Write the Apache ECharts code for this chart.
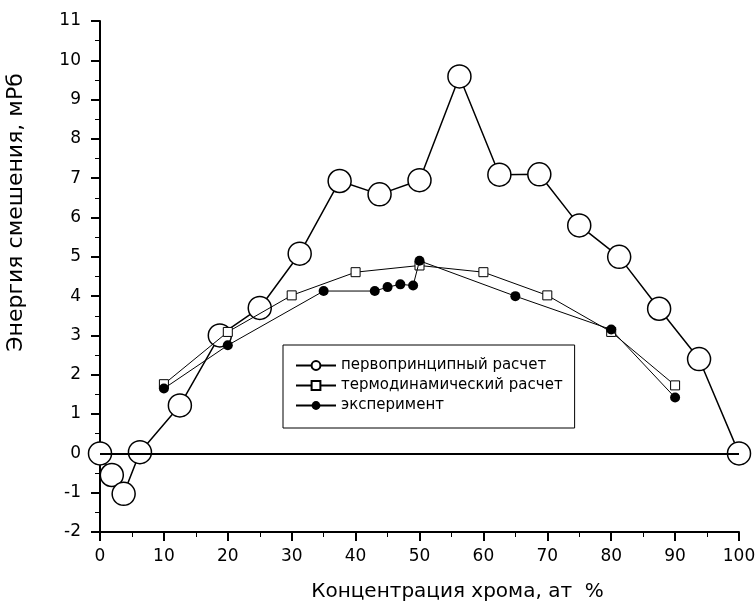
<!DOCTYPE html>
<html>
<head>
<meta charset="utf-8">
<script src="https://cdn.jsdelivr.net/npm/echarts@6/dist/echarts.min.js"></script>
<style>
  html, body { margin: 0; padding: 0; background: #fff; }
  #chart { width: 756px; height: 609px; }
</style>
</head>
<body>
<div id="chart"></div>
<script>
// первопринципный расчет
var calcX = [0, 1.85, 3.7, 6.25, 12.5, 18.75, 25, 31.25, 37.5, 43.75, 50, 56.25, 62.5, 68.75, 75, 81.25, 87.5, 93.75, 100];
var calcY = [0, -0.55, -1.03, 0.03, 1.22, 3.0, 3.7, 5.08, 6.93, 6.59, 6.95, 9.59, 7.09, 7.1, 5.8, 5.0, 3.68, 2.4, 0];
// термодинамический расчет
var thermoX = [10, 20, 30, 40, 50, 60, 70, 80, 90];
var thermoY = [1.76, 3.09, 4.02, 4.61, 4.78, 4.61, 4.02, 3.09, 1.73];
// эксперимент
var expX = [10, 20, 35, 43, 45, 47, 49, 50, 65, 80, 90];
var expY = [1.65, 2.75, 4.13, 4.13, 4.23, 4.30, 4.27, 4.9, 4.0, 3.15, 1.42];

var names = ['первопринципный расчет', 'термодинамический расчет', 'эксперимент'];

function pairs(xs, ys) {
  var out = [];
  xs.forEach(function (x, i) { out.push([x, ys[i]]); });
  return out;
}

var font = 'DejaVu Sans, sans-serif';
var myChart = echarts.init(document.getElementById('chart'));
var option = {
  animation: false,
  grid: { left: 100, right: 17, top: 21, bottom: 77, outerBoundsMode: 'none', containLabel: false },
  legend: {
    left: 283, top: 345,
    orient: 'vertical',
    data: names,
    itemWidth: 40, itemHeight: 11, itemGap: 5,
    padding: [13, 12, 15, 12],
    borderColor: '#000', borderWidth: 1,
    textStyle: { fontFamily: font, fontSize: 15, color: '#000' }
  },
  xAxis: {
    type: 'value', min: 0, max: 100, interval: 10,
    name: 'Концентрация хрома, ат  %',
    nameLocation: 'middle', nameGap: 50,
    nameTextStyle: { fontFamily: font, fontSize: 20, color: '#000', padding: [0, 0, 0, 76] },
    axisLine: { onZero: false, lineStyle: { color: '#000', width: 2 } },
    axisTick: { show: true, inside: false, length: 9, lineStyle: { color: '#000', width: 2 } },
    minorTick: { show: true, splitNumber: 2, length: 5, lineStyle: { color: '#000', width: 1 } },
    axisLabel: { fontFamily: font, fontSize: 17, color: '#000', margin: 16 },
    splitLine: { show: false }
  },
  yAxis: {
    type: 'value', min: -2, max: 11, interval: 1,
    name: 'Энергия смешения, мРб',
    nameLocation: 'middle', nameGap: 73,
    nameTextStyle: { fontFamily: font, fontSize: 22, color: '#000', padding: [0, 0, 0, 128] },
    axisLine: { onZero: false, lineStyle: { color: '#000', width: 2 } },
    axisTick: { show: true, inside: false, length: 9, lineStyle: { color: '#000', width: 2 } },
    minorTick: { show: true, splitNumber: 2, length: 5, lineStyle: { color: '#000', width: 1 } },
    axisLabel: { fontFamily: font, fontSize: 17, color: '#000', margin: 19 },
    splitLine: { show: false }
  },
  series: [
    {
      name: names[0], type: 'line', z: 2,
      data: pairs(calcX, calcY),
      symbol: 'circle', symbolSize: 23,
      itemStyle: { color: '#fff', borderColor: '#000', borderWidth: 1.5 },
      lineStyle: { color: '#000', width: 1.5 },
      markLine: {
        silent: true, symbol: 'none', label: { show: false },
        lineStyle: { color: '#000', width: 2, type: 'solid' },
        data: [{ yAxis: 0 }]
      }
    },
    {
      name: names[1], type: 'line', z: 3,
      data: pairs(thermoX, thermoY),
      symbol: 'rect', symbolSize: 9,
      itemStyle: { color: '#fff', borderColor: '#000', borderWidth: 1 },
      lineStyle: { color: '#000', width: 1 }
    },
    {
      name: names[2], type: 'line', z: 4,
      data: pairs(expX, expY),
      symbol: 'circle', symbolSize: 10,
      itemStyle: { color: '#000', borderColor: '#000', borderWidth: 0 },
      lineStyle: { color: '#000', width: 1 }
    }
  ]
};
myChart.setOption(option);
</script>
</body>
</html>
